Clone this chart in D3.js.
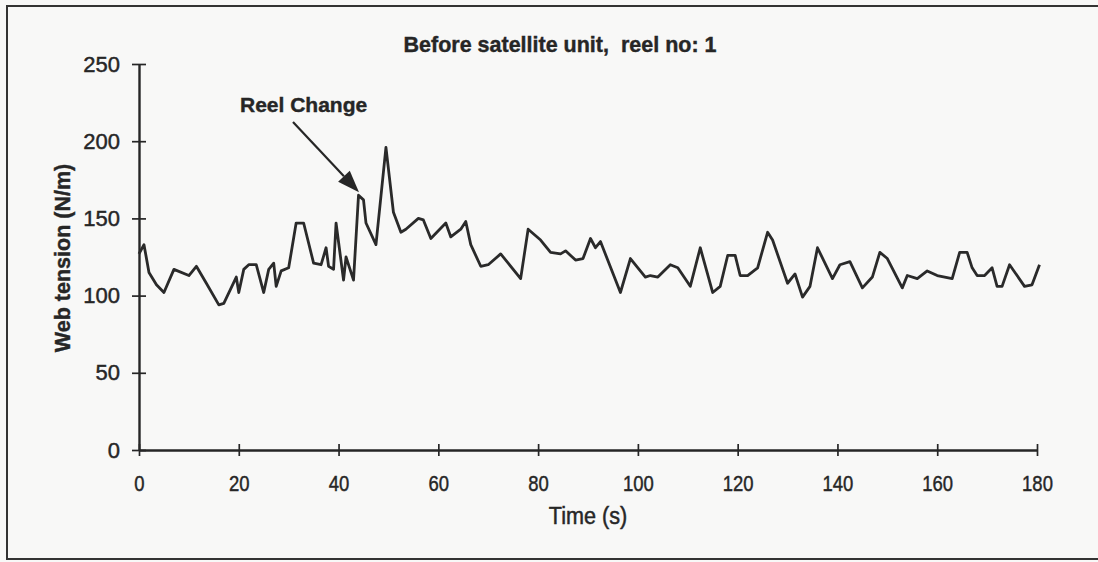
<!DOCTYPE html>
<html>
<head>
<meta charset="utf-8">
<script src="https://cdn.jsdelivr.net/npm/d3@7"></script>
<style>
  html, body { margin: 0; padding: 0; background: #f8f8f7; }
  svg { display: block; }
  text { fill: #262626; }
</style>
</head>
<body>
<svg id="chart" width="1098" height="562"></svg>
<script>
// Web tension record, reel no. 1, before the satellite unit
const timeSec = [0, 1, 2, 3.5, 5, 7, 10, 11.5, 13.5, 16, 17, 19.5, 20, 21, 22, 23.5, 25, 26, 27, 27.5,
  28.5, 30, 31.5, 33, 35, 36.5, 37.5, 38, 39, 39.5, 41, 41.5, 43, 44, 45, 45.5, 47.5, 49.5, 51, 52.5,
  53.5, 56, 57, 58.5, 61.5, 62.5, 64.5, 65.5, 66.5, 68.5, 70, 72.5, 74, 76.5, 78, 80.5, 82.5, 84.5, 85.5, 87.5,
  89, 90.5, 91.5, 92.5, 96.5, 98.5, 101.5, 102.5, 104, 106.5, 108, 110.5, 112.5, 115, 116.5, 118, 119.5, 120.5,
  122, 124, 126, 127, 130, 131.5, 133, 134.5, 136, 139, 140.5, 142.5, 145, 147, 148.5, 150, 153, 154, 156, 158,
  160, 163, 164.5, 166, 167, 168, 169.5, 171, 172, 173, 174.5, 177.5, 179, 180.5];
const tension = [127, 133, 115, 107, 102, 117, 113, 119, 108, 94, 95, 112, 102, 117, 120, 120, 102, 117, 121, 106,
  116, 118, 147, 147, 121, 120, 131, 119, 117, 147, 110, 125, 110, 165, 162, 147, 133, 196, 154, 141,
  143, 150, 149, 137, 147, 138, 143, 148, 133, 119, 120, 127, 121, 111, 143, 136, 128, 127, 129, 123,
  124, 137, 131, 135, 102, 124, 112, 113, 112, 120, 118, 106, 131, 102, 106, 126, 126, 113,
  113, 118, 141, 136, 108, 114, 99, 106, 131, 111, 120, 122, 105, 112, 128, 124, 105, 113, 111, 116,
  113, 111, 128, 128, 118, 113, 113, 118, 106, 106, 120, 106, 107, 120];

const xTicks = [0, 20, 40, 60, 80, 100, 120, 140, 160, 180];
const yTicks = [0, 50, 100, 150, 200, 250];

const titleText = "Before satellite unit,  reel no: 1";
const xLabel = "Time (s)";
const yLabel = "Web tension (N/m)";
const noteText = "Reel Change";
const noteAt = [44.5, 165];   // point the arrow marks (s, N/m)

const svg = d3.select("#chart");
const ink = "#262626";
const font = "'Liberation Sans', Arial, Helvetica, sans-serif";

const x = d3.scaleLinear().domain([0, 180]).range([139, 1037]);
const y = d3.scaleLinear().domain([0, 250]).range([450, 64]);

// give printed text a slightly heavier stroke
function inked(sel, w) {
  return sel.attr("stroke", ink).attr("stroke-width", w).attr("paint-order", "stroke");
}

// page frame
svg.append("path")
  .attr("d", "M1100,6 H7 V559 H1100")
  .attr("fill", "none").attr("stroke", "#333").attr("stroke-width", 2);

// x axis
const gx = svg.append("g").attr("transform", `translate(0,${y(0)})`)
  .call(d3.axisBottom(x).tickValues(xTicks).tickSize(6).tickPadding(19).tickSizeOuter(0));
gx.select(".domain").attr("stroke", ink).attr("stroke-width", 2.4);
gx.selectAll(".tick line").attr("y1", -6).attr("y2", 6).attr("stroke", ink).attr("stroke-width", 1.7);
inked(gx.selectAll(".tick text")
  .attr("font-family", font)
  .attr("font-size", 22).attr("fill", ink)
  .attr("transform", "scale(0.84,1)"), 0.45);

// y axis
const gy = svg.append("g").attr("transform", `translate(${x(0)},0)`)
  .call(d3.axisLeft(y).tickValues(yTicks).tickSize(7).tickPadding(12).tickSizeOuter(0));
gy.select(".domain").attr("stroke", ink).attr("stroke-width", 2.4);
gy.selectAll(".tick line").attr("x1", -7).attr("x2", 7).attr("stroke", ink).attr("stroke-width", 1.7);
inked(gy.selectAll(".tick text")
  .attr("font-family", font)
  .attr("font-size", 22).attr("fill", ink), 0.45);

// tension trace
const line = d3.line().x((d, i) => x(timeSec[i])).y(d => y(d));
svg.append("path")
  .datum(tension)
  .attr("d", line)
  .attr("fill", "none")
  .attr("stroke", "#2a2a2a")
  .attr("stroke-width", 2.8)
  .attr("stroke-linejoin", "round");

// title
inked(svg.append("text")
  .attr("x", 560).attr("y", 52)
  .attr("text-anchor", "middle")
  .attr("font-family", font)
  .attr("font-weight", "bold").attr("font-size", 21.5)
  .style("white-space", "pre")
  .text(titleText), 0.4);

// axis titles
inked(svg.append("text")
  .attr("transform", "translate(588,524) scale(0.9,1)")
  .attr("text-anchor", "middle")
  .attr("font-family", font)
  .attr("font-size", 24)
  .text(xLabel), 0.5);

inked(svg.append("text")
  .attr("transform", `translate(70,258) rotate(-90)`)
  .attr("text-anchor", "middle")
  .attr("font-family", font)
  .attr("font-weight", "bold").attr("font-size", 21.5)
  .text(yLabel), 0.4);

// reel change annotation
inked(svg.append("text")
  .attr("x", 240).attr("y", 112)
  .attr("font-family", font)
  .attr("font-weight", "bold").attr("font-size", 21)
  .text(noteText), 0.4);

const tip = [x(noteAt[0]) - 2, y(noteAt[1]) - 3];
const start = [293, 122];
const ang = Math.atan2(tip[1] - start[1], tip[0] - start[0]);
const headLen = 22, headHalf = 8;
const base = [tip[0] - headLen * Math.cos(ang), tip[1] - headLen * Math.sin(ang)];
svg.append("line")
  .attr("x1", start[0]).attr("y1", start[1])
  .attr("x2", base[0]).attr("y2", base[1])
  .attr("stroke", ink).attr("stroke-width", 2.2);
svg.append("path")
  .attr("d", d3.line()([
    tip,
    [base[0] + headHalf * Math.sin(ang), base[1] - headHalf * Math.cos(ang)],
    [base[0] - headHalf * Math.sin(ang), base[1] + headHalf * Math.cos(ang)]
  ]) + "Z")
  .attr("fill", ink);
</script>
</body>
</html>
